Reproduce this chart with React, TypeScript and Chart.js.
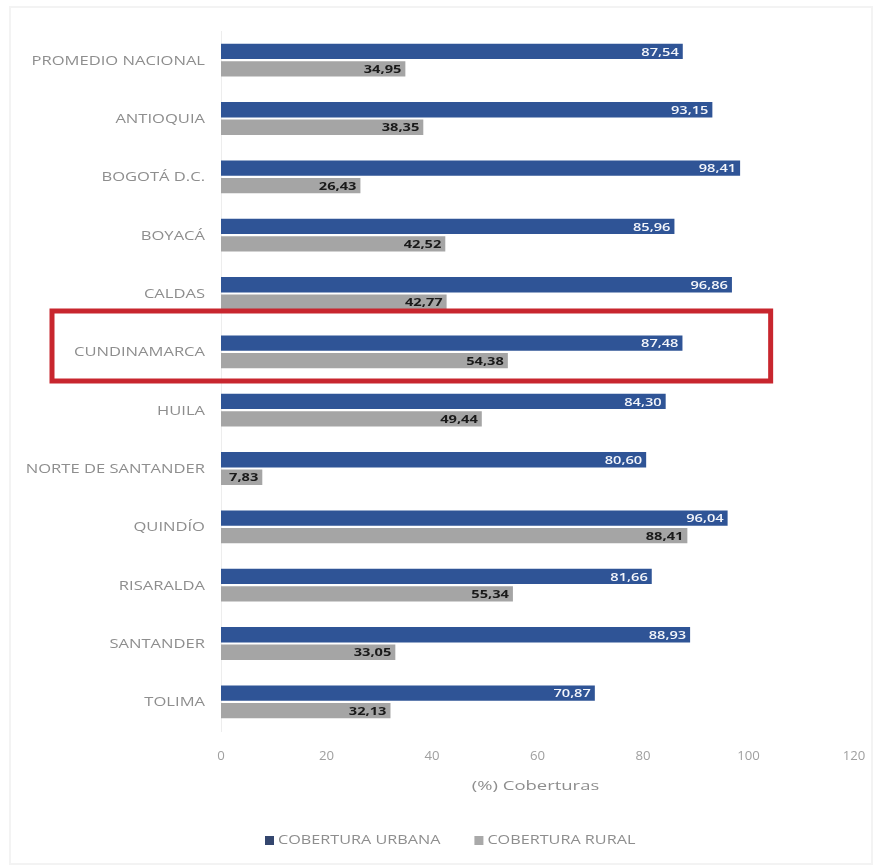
import React, { useEffect, useRef } from "react";
import { Chart, registerables } from "chart.js";

Chart.register(...registerables);

const categories = [
  "PROMEDIO NACIONAL",
  "ANTIOQUIA",
  "BOGOTÁ D.C.",
  "BOYACÁ",
  "CALDAS",
  "CUNDINAMARCA",
  "HUILA",
  "NORTE DE SANTANDER",
  "QUINDÍO",
  "RISARALDA",
  "SANTANDER",
  "TOLIMA",
];
const urbana = [87.54, 93.15, 98.41, 85.96, 96.86, 87.48, 84.3, 80.6, 96.04, 81.66, 88.93, 70.87];
const rural = [34.95, 38.35, 26.43, 42.52, 42.77, 54.38, 49.44, 7.83, 88.41, 55.34, 33.05, 32.13];
const seriesNames = ["COBERTURA URBANA", "COBERTURA RURAL"];
const seriesColors = ["#2F5496", "#A5A5A5"];
const xTicks = [0, 20, 40, 60, 80, 100, 120];
const xTitle = "(%) Coberturas";
const highlightIndex = 5;

const FONT = "'Open Sans', 'Liberation Sans', sans-serif";

const fmt = (v: number) => v.toFixed(2).replace(".", ",");

function stretchedText(
  ctx: CanvasRenderingContext2D,
  text: string,
  x: number,
  y: number,
  align: CanvasTextAlign,
  sx: number,
  font: string,
  color: string
) {
  ctx.save();
  ctx.font = font;
  ctx.fillStyle = color;
  ctx.textAlign = align;
  ctx.textBaseline = "middle";
  ctx.translate(x, y);
  ctx.scale(sx, 1);
  ctx.fillText(text, 0, 0);
  ctx.restore();
}

const textPlugin = {
  id: "stretchedTexts",
  afterDraw(chart: any) {
    const ctx: CanvasRenderingContext2D = chart.ctx;
    const xs = chart.scales.x;
    const ys = chart.scales.y;
    // faint frame
    ctx.save();
    ctx.strokeStyle = "#f3f3f3";
    ctx.lineWidth = 2;
    ctx.strokeRect(10, 7, 862, 857);
    ctx.restore();
    // category labels
    categories.forEach((c, i) => {
      stretchedText(ctx, c, 205, ys.getPixelForValue(i) + 1, "right", 1.38, "12px " + FONT, "#8e8e8e");
    });
    // x tick labels
    xTicks.forEach((v) => {
      stretchedText(ctx, String(v), xs.getPixelForValue(v), 757, "center", 1.1, "12px " + FONT, "#a0a0a0");
    });
    // axis title
    stretchedText(ctx, xTitle, (xs.left + xs.right) / 2 - 2, 786, "center", 1.42, "13px " + FONT, "#8e8e8e");
    // legend
    let lx = 265;
    const ly = 840;
    seriesNames.forEach((name, i) => {
      ctx.save();
      ctx.fillStyle = i === 0 ? "#34466e" : "#a9a9a9";
      ctx.fillRect(lx, ly - 4, 9, 9);
      ctx.restore();
      ctx.save();
      ctx.font = "12px " + FONT;
      const w = ctx.measureText(name).width * 1.35;
      ctx.restore();
      stretchedText(ctx, name, lx + 13, ly + 1, "left", 1.35, "12px " + FONT, "#8e8e8e");
      lx += 13 + w + 34;
    });
    // bar value labels
    chart.data.datasets.forEach((ds: any, di: number) => {
      const meta = chart.getDatasetMeta(di);
      meta.data.forEach((bar: any, i: number) => {
        stretchedText(
          ctx,
          fmt(ds.data[i]),
          bar.x - 4,
          bar.y + 1,
          "right",
          1.33,
          (di === 0 ? "600 11px " : "bold 11px ") + FONT,
          di === 0 ? "#f4f6fb" : "#1a1a1a"
        );
      });
    });
    // highlight box
    const c = ys.getPixelForValue(highlightIndex);
    const step = ys.getPixelForValue(1) - ys.getPixelForValue(0);
    ctx.save();
    ctx.strokeStyle = "#C8262E";
    ctx.lineWidth = 5;
    const left = 52;
    const right = xs.getPixelForValue(104.2);
    const top = c - 0.7 * step;
    const bottom = c + 0.5 * step;
    ctx.strokeRect(left, top, right - left, bottom - top);
    ctx.restore();
  },
};

export default function App() {
  const ref = useRef<HTMLCanvasElement>(null);
  useEffect(() => {
    document.body.style.margin = "0";
    const chart = new Chart(ref.current!, {
      type: "bar",
      data: {
        labels: categories,
        datasets: [
          {
            label: seriesNames[0],
            data: urbana,
            backgroundColor: seriesColors[0],
            categoryPercentage: 0.6,
            barPercentage: 0.88,
          },
          {
            label: seriesNames[1],
            data: rural,
            backgroundColor: seriesColors[1],
            categoryPercentage: 0.6,
            barPercentage: 0.88,
          },
        ],
      },
      options: {
        indexAxis: "y",
        animation: false,
        responsive: false,
        layout: { padding: { top: 31, right: 21, bottom: 136, left: 0 } },
        scales: {
          x: {
            min: 0,
            max: 120,
            afterBuildTicks: (axis: any) => {
              axis.ticks = xTicks.map((v) => ({ value: v }));
            },
            afterFit: (axis: any) => {
              axis.height = 0;
            },
            grid: { display: false, drawTicks: false },
            border: { display: false },
            ticks: { display: false },
          },
          y: {
            grid: { display: false, drawTicks: false },
            border: { display: true, color: "#ededed" },
            afterFit: (axis: any) => {
              axis.width = 221;
            },
            ticks: { display: false },
          },
        },
        plugins: {
          legend: { display: false },
          tooltip: { enabled: false },
        },
      },
      plugins: [textPlugin],
    } as any);
    return () => chart.destroy();
  }, []);
  return <canvas ref={ref} width={875} height={867} style={{ display: "block" }} />;
}
